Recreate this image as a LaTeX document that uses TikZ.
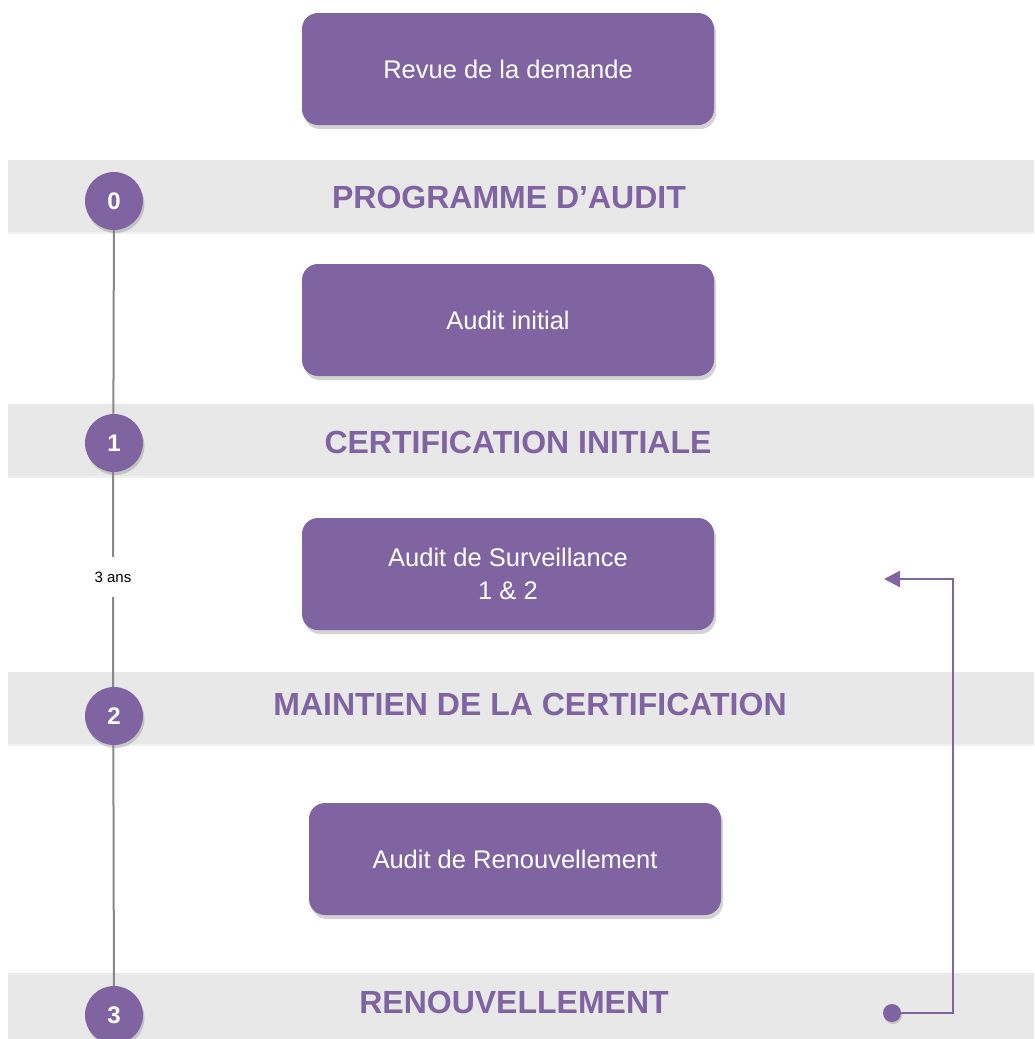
\documentclass[tikz,border=0pt]{standalone}
\usepackage{fontspec}
\setmainfont{Liberation Sans}
\usetikzlibrary{shadows,arrows.meta}
\definecolor{purp}{HTML}{8064A2}
\definecolor{bandgray}{HTML}{E8E8E8}
\definecolor{linegray}{HTML}{888888}
\begin{document}
\begin{tikzpicture}[x=1pt,y=-1pt,
  stagebox/.style={rectangle, rounded corners=16pt, fill=purp, minimum width=412pt, minimum height=112pt,
    text=white, align=center, font=\fontsize{25.5}{33}\selectfont,
    drop shadow={opacity=0.35, shadow xshift=2pt, shadow yshift=-4pt}},
  bandbox/.style={rectangle, fill=bandgray, minimum width=1026pt, minimum height=72pt, inner sep=0pt,
    drop shadow={opacity=0.12, shadow xshift=0pt, shadow yshift=-2pt}},
  header/.style={text=purp, font=\fontsize{32}{36}\selectfont\bfseries},
  stepcircle/.style={circle, fill=purp, minimum size=58pt, inner sep=0pt, text=white,
    font=\fontsize{24}{28}\selectfont\bfseries,
    drop shadow={opacity=0.35, shadow xshift=1.5pt, shadow yshift=-3pt}},
  timeline/.style={draw=linegray, line width=2pt},
  loopline/.style={draw=purp, line width=2pt}
]
\useasboundingbox (0,0) rectangle (1034,1039);

% bands
\node[bandbox] (b0) at (521,196) {};
\node[bandbox] (b1) at (521,440) {};
\node[bandbox] (b2) at (521,708) {};
\node[bandbox] (b3) at (521,1009) {};

% headers
\node[header] (h0) at (509,197) {PROGRAMME D’AUDIT};
\node[header] (h1) at (518,442) {CERTIFICATION INITIALE};
\node[header] (h2) at (530,704) {MAINTIEN DE LA CERTIFICATION};
\node[header] (h3) at (514,1002) {RENOUVELLEMENT};

% boxes
\node[stagebox] (s0) at (508,69) {Revue de la demande};
\node[stagebox] (s1) at (508,320) {Audit initial};
\node[stagebox] (s2) at (508,574) {Audit de Surveillance\\1 \& 2};
\node[stagebox] (s3) at (515,859) {Audit de Renouvellement};

% timeline
\node[font=\fontsize{15}{18}\selectfont, minimum height=40pt, inner sep=0pt] (ans) at (113,577) {3 ans};
\coordinate (c0p) at (114,201);
\coordinate (c3p) at (114,1015);
\draw[timeline] (c0p) -- (ans.north);
\draw[timeline] (ans.south) -- (c3p);

% circles
\node[stepcircle] (c0) at (114,201) {0};
\node[stepcircle] (c1) at (114,443) {1};
\node[stepcircle] (c2) at (114,716) {2};
\node[stepcircle] (c3) at (114,1015) {3};

% loop arrow
\node[circle, fill=purp, minimum size=18pt, inner sep=0pt,
  drop shadow={opacity=0.35, shadow xshift=1pt, shadow yshift=-2pt}] (dot) at (892,1013) {};
\coordinate (corner) at (953,579);
\coordinate (tip) at (884,579);
\draw[loopline, -{Triangle[length=16pt,width=16pt]}] (dot) -| (corner) -- (tip);
\end{tikzpicture}
\end{document}
